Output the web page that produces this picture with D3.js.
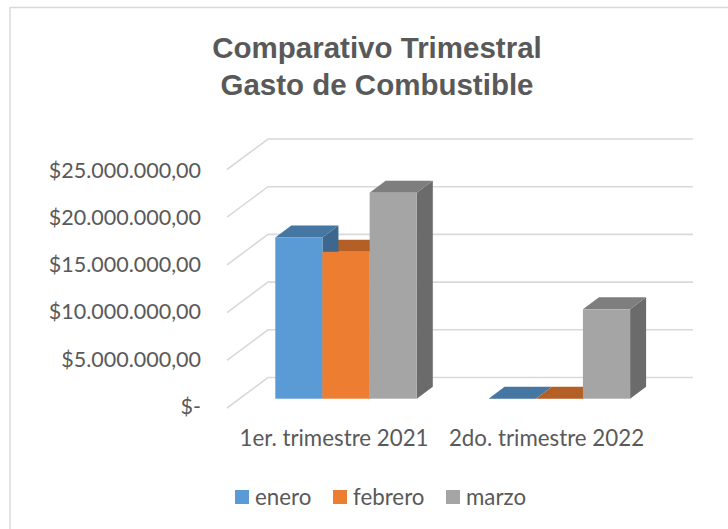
<!DOCTYPE html>
<html><head><meta charset="utf-8">
<style>html,body{margin:0;background:#fff}svg{display:block}</style>
<script src="https://cdn.jsdelivr.net/npm/d3@7"></script></head>
<body><svg id="c" width="728" height="529"></svg>
<script>
const categories = ["1er. trimestre 2021", "2do. trimestre 2022"];
const seriesNames = ["enero", "febrero", "marzo"];
const enero = [16900000, 0];
const febrero = [15400000, 0];
const marzo = [21600000, 9370000];
const tickValues = [0, 5000000, 10000000, 15000000, 20000000, 25000000];
const tickLabels = ["$-", "$5.000.000,00", "$10.000.000,00", "$15.000.000,00", "$20.000.000,00", "$25.000.000,00"];
const titleLines = ["Comparativo Trimestral", "Gasto de Combustible"];
const faceColors = ["#5b9bd5", "#ed7d31", "#a5a5a5"];
const topColors = ["#4676a2", "#b45f25", "#7e7e7e"];
const sideColors = ["#3d678e", "#a05420", "#6b6b6b"];

const font = "Lato, 'Open Sans', sans-serif";
const titleFont = "'Liberation Sans', Arial, sans-serif";
const svg = d3.select("#c");
const values = [enero, febrero, marzo];

// the reference crops the chart frame: only its top and left edges are visible
svg.append("path").attr("d", "M10,529V7.5H728").attr("fill", "none")
  .attr("stroke", "#d9d9d9").attr("stroke-width", 1.4);

const y = d3.scaleLinear().domain([0, 25000000]).range([398.7, 160.2]);
const labelY = d3.scaleLinear().domain([0, 25000000]).range([413.7, 178]);
const x0 = d3.scaleBand().domain(categories).range([239.4, 666]);
const groupWidth = 141.5;
const x1 = d3.scaleBand().domain(seriesNames).range([0, groupWidth]);
const groupLeft = c => x0(c) + x0.bandwidth() / 2 - groupWidth / 2;
const barDx = 16, barDy = 12;
const wallDx = 41, wallDyBack = 21.2, frontDrop = 9.3;

const grid = svg.append("g").attr("fill", "none").attr("stroke", "#d9d9d9").attr("stroke-width", 1.6);
grid.selectAll("path").data(tickValues).join("path")
  .attr("d", v => {
    const front = y(v) + frontDrop;
    const back = y(v) - wallDyBack;
    return `M227,${front}L${227 + wallDx},${back}H693`;
  });

const bars = svg.append("g");
categories.forEach((c, i) => {
  [2, 1, 0].forEach(s => {
    const v = values[s][i];
    const x = groupLeft(c) + x1(seriesNames[s]);
    const w = x1.bandwidth();
    const top = y(v), base = y(0);
    if (v > 0) {
      bars.append("path").attr("fill", sideColors[s])
        .attr("d", `M${x + w},${top}L${x + w + barDx},${top - barDy}V${base - barDy}L${x + w},${base}Z`);
    }
    bars.append("path").attr("fill", topColors[s])
      .attr("d", `M${x},${top}L${x + barDx},${top - barDy}H${x + w + barDx}L${x + w},${top}Z`);
  });
  [0, 1, 2].forEach(s => {
    const v = values[s][i];
    if (v <= 0) return;
    const x = groupLeft(c) + x1(seriesNames[s]);
    bars.append("rect").attr("fill", faceColors[s])
      .attr("x", x).attr("y", y(v)).attr("width", x1.bandwidth()).attr("height", y(0) - y(v));
  });
});

svg.append("g").selectAll("text").data(titleLines).join("text")
  .attr("x", 377).attr("y", (d, i) => 58 + i * 36.5)
  .attr("text-anchor", "middle").attr("font-family", titleFont).attr("font-weight", 700)
  .attr("font-size", 29.5).attr("fill", "#595959").text(d => d);

svg.append("g").selectAll("text").data(tickValues).join("text")
  .attr("x", 201).attr("y", v => labelY(v))
  .attr("text-anchor", "end").attr("font-family", font).attr("font-size", 21.5).attr("fill", "#595959")
  .text((d, i) => tickLabels[i]);

svg.append("g").selectAll("text").data(categories).join("text")
  .attr("x", (c, i) => [334, 546.5][i]).attr("y", 446)
  .attr("text-anchor", "middle").attr("font-family", font).attr("font-size", 22.3).attr("fill", "#595959")
  .text(d => d);

const legendX = d3.scaleOrdinal().domain(seriesNames).range([235, 333, 446]);
const legend = svg.append("g").selectAll("g").data(seriesNames).join("g")
  .attr("transform", d => `translate(${legendX(d)},490)`);
legend.append("rect").attr("width", 14).attr("height", 14).attr("fill", (d, i) => faceColors[i]);
legend.append("text").attr("x", 20).attr("y", 14.5).attr("font-family", font).attr("font-size", 22.3)
  .attr("fill", "#595959").text(d => d);
</script></body></html>
